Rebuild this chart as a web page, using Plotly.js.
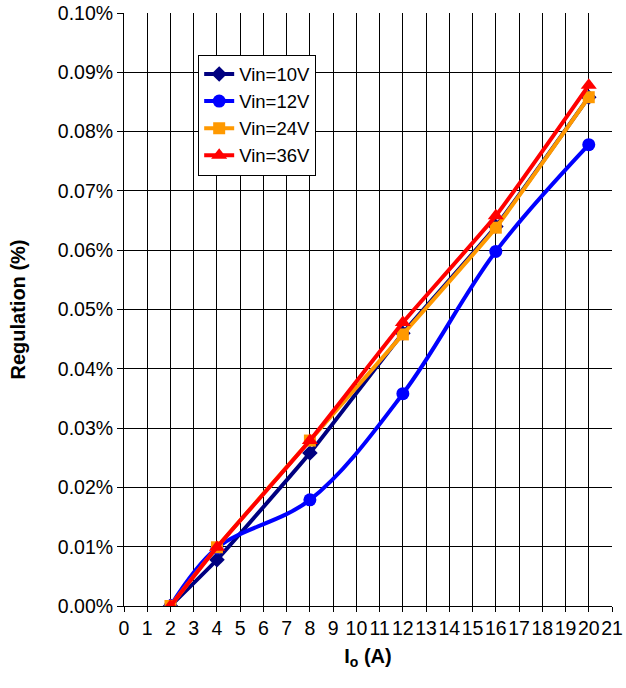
<!DOCTYPE html>
<html><head><meta charset="utf-8">
<script src="https://cdn.plot.ly/plotly-3.0.1.min.js"></script>
<style>body{margin:0;padding:0;background:#fff}#chart{width:626px;height:688px}</style>
</head><body><div id="chart"></div>
<script>
const currentA = [2, 4, 8, 12, 16, 20];
const vin10 = [0, 0.0078, 0.0258, 0.046, 0.064, 0.0858];
const vin12 = [0, 0.0098, 0.0179, 0.0358, 0.0598, 0.0778];
const vin24 = [0, 0.0099, 0.0279, 0.0458, 0.0638, 0.0858];
const vin36 = [0, 0.0099, 0.0279, 0.0478, 0.0658, 0.0878];
const names = ['Vin=10V', 'Vin=12V', 'Vin=24V', 'Vin=36V'];
const colors = ['#000080', '#0000FF', '#FF9900', '#FF0000'];
const symbols = ['diamond', 'circle', 'square', 'triangle-up'];
const sizes = [12, 13, 12, 14];
const series = [vin10, vin12, vin24, vin36];

const traces = series.map((ys, i) => ({
  x: currentA, y: ys, name: names[i], type: 'scatter', mode: 'lines+markers',
  line: {color: colors[i], width: 4, shape: 'spline', smoothing: i === 1 ? 1 : 0.4},
  marker: {color: colors[i], symbol: symbols[i], size: sizes[i]}
}));

const layout = {
  width: 626, height: 688,
  margin: {l: 124, r: 14, t: 13, b: 82},
  paper_bgcolor: '#fff', plot_bgcolor: '#fff',
  font: {family: 'Liberation Sans, Arial, sans-serif', size: 19.5, color: '#000'},
  showlegend: true,
  legend: {x: 0.152, y: 0.93, xanchor: 'left', yanchor: 'top',
    bgcolor: '#fff', bordercolor: '#000', borderwidth: 1,
    font: {size: 18.5}, tracegroupgap: 0, itemwidth: 30},
  xaxis: {range: [0, 21], dtick: 1, tick0: 0, tickangle: 0, showgrid: true, gridcolor: '#000', gridwidth: 1,
    showline: true, linecolor: '#000', linewidth: 1, mirror: false,
    ticks: 'outside', ticklen: 5, tickcolor: '#000', zeroline: false,
    tickfont: {size: 19.5}, automargin: false,
    title: {text: '<b>I<sub>o</sub> (A)</b>', font: {size: 20}, standoff: 10}},
  yaxis: {range: [0, 0.1], dtick: 0.01, tickformat: '.2f', ticksuffix: '%',
    showgrid: true, gridcolor: '#000', gridwidth: 1,
    showline: true, linecolor: '#000', linewidth: 1,
    ticks: 'outside', ticklen: 6, tickcolor: '#000', zeroline: false,
    tickfont: {size: 19.5}, automargin: false,
    title: {text: '<b>Regulation (%)</b>', font: {size: 20}, standoff: 26}}
};
Plotly.newPlot('chart', traces, layout, {staticPlot: true, displayModeBar: false});
</script></body></html>
